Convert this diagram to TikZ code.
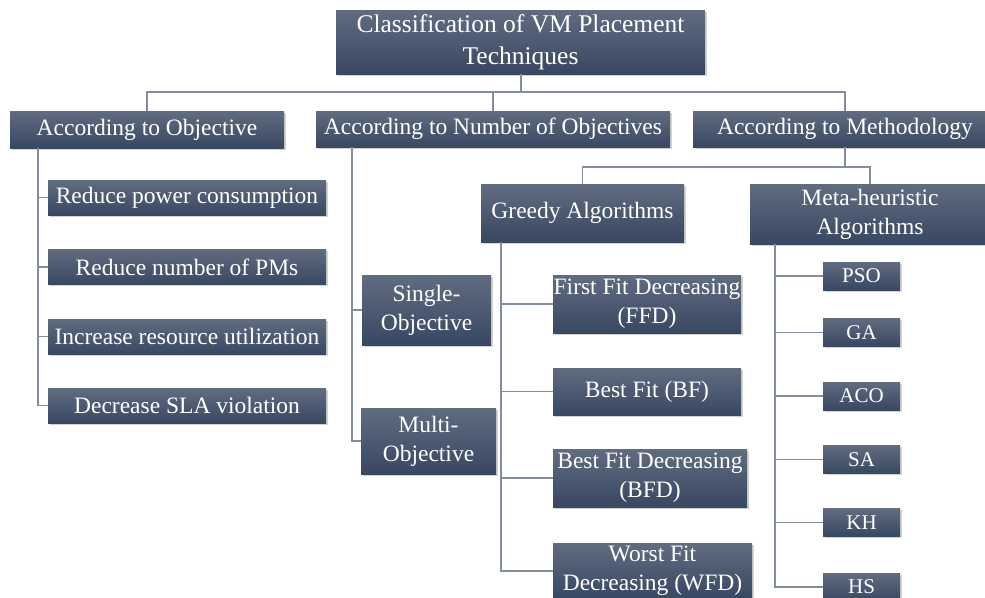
\documentclass[tikz,border=0pt]{standalone}
\usepackage{fontspec}
\setmainfont{Liberation Serif}
\usetikzlibrary{shadows}
\definecolor{boxtop}{RGB}{96,108,128}
\definecolor{boxbot}{RGB}{56,71,98}
\definecolor{linec}{RGB}{130,142,160}
\tikzset{
  box/.style={rectangle, inner sep=0pt, align=center, text=white,
    top color=boxtop, bottom color=boxbot, draw=none,
    drop shadow={opacity=0.35, shadow xshift=1.5pt, shadow yshift=-1.5pt},
    font=\fontsize{23.5}{29}\selectfont},
  bigbox/.style={box, font=\fontsize{25.5}{32}\selectfont},
  smallbox/.style={box, font=\fontsize{21}{25}\selectfont, minimum width=77pt, minimum height=28pt},
  conn/.style={draw=linec, line width=1.2pt}
}
\begin{document}
\begin{tikzpicture}[x=1pt,y=-1pt]
\path[use as bounding box, fill=white] (0,0) rectangle (985,597);
\clip (0,0) rectangle (985,597);

% level 0
\node[bigbox, minimum width=369pt, minimum height=64pt] (root) at (520.5,42) {Classification of VM Placement\\Techniques};

% level 1
\node[box, minimum width=274pt, minimum height=37pt] (obj) at (147,129.5) {According to Objective};
\node[box, minimum width=354pt, minimum height=36pt] (num) at (493,129) {According to Number of Objectives};
\node[box, minimum width=304pt, minimum height=36pt] (meth) at (845,129) {According to Methodology};

% objective children
\node[box, minimum width=278pt, minimum height=35pt] (o1) at (187,197.5) {Reduce power consumption};
\node[box, minimum width=278pt, minimum height=35pt] (o2) at (187,267) {Reduce number of PMs};
\node[box, minimum width=278pt, minimum height=35pt] (o3) at (187,336.5) {Increase resource utilization};
\node[box, minimum width=278pt, minimum height=35pt] (o4) at (187,405.5) {Decrease SLA violation};

% number-of-objectives children
\node[box, minimum width=129pt, minimum height=70pt] (single) at (426.5,310) {Single-\\Objective};
\node[box, minimum width=135pt, minimum height=66pt] (multi) at (428.5,441) {Multi-\\Objective};

% methodology children
\node[box, minimum width=203pt, minimum height=58pt] (greedy) at (582.5,213) {Greedy Algorithms};
\node[box, minimum width=240pt, minimum height=60pt] (meta) at (870,214) {Meta-heuristic\\Algorithms};

% greedy children
\node[box, minimum width=188pt, minimum height=58pt] (ffd) at (647,304) {First Fit Decreasing\\(FFD)};
\node[box, minimum width=188pt, minimum height=47pt] (bf) at (647,391.5) {Best Fit (BF)};
\node[box, minimum width=194pt, minimum height=58pt] (bfd) at (650,478) {Best Fit Decreasing\\(BFD)};
\node[box, minimum width=199pt, minimum height=56pt] (wfd) at (652.5,571) {Worst Fit\\Decreasing (WFD)};

% meta-heuristic children
\node[smallbox] (pso) at (861.5,276) {PSO};
\node[smallbox] (ga) at (861.5,332.5) {GA};
\node[smallbox] (aco) at (861.5,396) {ACO};
\node[smallbox] (sa) at (861.5,459.5) {SA};
\node[smallbox] (kh) at (861.5,522.5) {KH};
\node[smallbox] (hs) at (861.5,587) {HS};

% junction coordinates
\coordinate (rj) at (521,92);
\coordinate (mj) at (845,167);
\coordinate (ov) at (38,148);
\coordinate (nv) at (352,147);
\coordinate (gv) at (501,242);
\coordinate (hv) at (775,244);

% connectors: root
\begin{scope}[on background layer/.style={}]
\draw[conn] (root.south -| rj) -- (rj);
\draw[conn] (obj.north) -- (obj.north |- rj) -- (meth.north |- rj) -- (meth.north);
\draw[conn] (num.north) -- (num.north |- rj);

% objective
\draw[conn] (ov) |- (o4.west);
\draw[conn] (ov |- o1.west) -- (o1.west);
\draw[conn] (ov |- o2.west) -- (o2.west);
\draw[conn] (ov |- o3.west) -- (o3.west);

% number of objectives
\draw[conn] (nv) |- (multi.west);
\draw[conn] (nv |- single.west) -- (single.west);

% methodology
\draw[conn] (meth.south) -- (mj);
\draw[conn] (greedy.north) -- (greedy.north |- mj) -- (meta.north |- mj) -- (meta.north);

% greedy
\draw[conn] (gv) |- (wfd.west);
\draw[conn] (gv |- ffd.west) -- (ffd.west);
\draw[conn] (gv |- bf.west) -- (bf.west);
\draw[conn] (gv |- bfd.west) -- (bfd.west);

% meta
\draw[conn] (hv) |- (hs.west);
\draw[conn] (hv |- pso.west) -- (pso.west);
\draw[conn] (hv |- ga.west) -- (ga.west);
\draw[conn] (hv |- aco.west) -- (aco.west);
\draw[conn] (hv |- sa.west) -- (sa.west);
\draw[conn] (hv |- kh.west) -- (kh.west);
\end{scope}
\end{tikzpicture}
\end{document}
